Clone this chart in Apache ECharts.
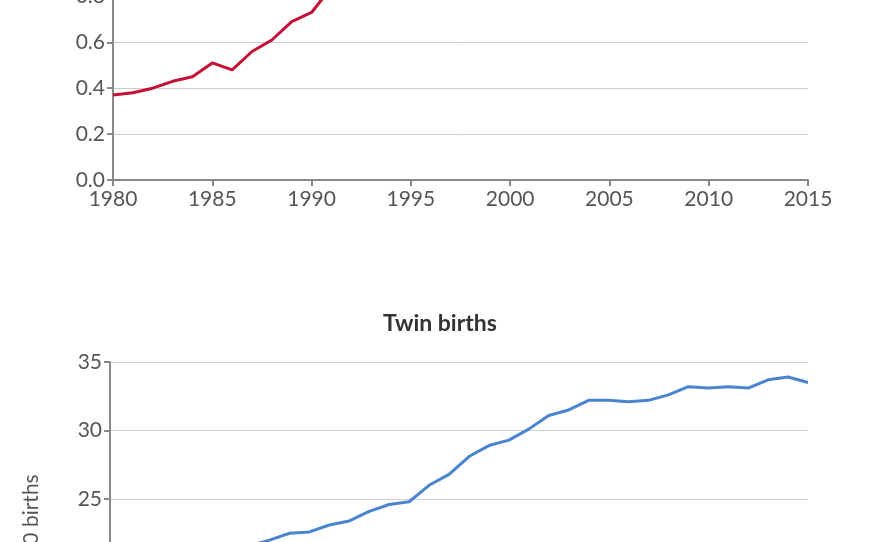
<!DOCTYPE html>
<html><head><meta charset="utf-8">
<script src="https://cdn.jsdelivr.net/npm/echarts@6/dist/echarts.min.js"></script>
<style>html,body{margin:0;padding:0;background:#fff;overflow:hidden;width:880px;height:542px}#c{position:absolute;left:0;top:-60px;width:880px;height:1000px}</style>
</head><body><div id="c"></div>
<script>
const years = [1980,1981,1982,1983,1984,1985,1986,1987,1988,1989,1990,1991,1992,1993,1994,1995,1996,1997,1998,1999,2000,2001,2002,2003,2004,2005,2006,2007,2008,2009,2010,2011,2012,2013,2014,2015];
const topYears = [1980,1981,1982,1983,1984,1985,1986,1987,1988,1989,1990,1991];
const topValues = [0.37,0.38,0.40,0.43,0.45,0.51,0.48,0.56,0.61,0.69,0.73,0.84];
const twinValues = [18.9,19.3,19.6,19.9,20.5,21.0,21.2,21.6,22.0,22.5,22.6,23.1,23.4,24.1,24.6,24.8,26.0,26.8,28.1,28.9,29.3,30.1,31.1,31.5,32.2,32.2,32.1,32.2,32.6,33.2,33.1,33.2,33.1,33.7,33.9,33.5];
const twinTitle = 'Twin births';
const twinAxisName = 'Twin births per 1,000 births';

const font = 'Lato, "DejaVu Sans", sans-serif';
const lab = {color:'#555', fontSize:21, fontFamily:font};
const axLine = {show:true, lineStyle:{color:'#888', width:2}};
const split = {show:true, lineStyle:{color:'#ccc', width:1}};
const tick = {show:true, length:6, lineStyle:{color:'#888',width:2}};
const chart = echarts.init(document.getElementById('c'));
chart.setOption({
  animation:false,
  title:{text:twinTitle, left:'center', top:367, textStyle:{fontFamily:font, fontSize:23, fontWeight:'bold', color:'#333'}},
  grid:[
    {left:113, right:72, top:0, height:240},
    {left:110, right:72, top:422, height:479.5}
  ],
  xAxis:[
    {gridIndex:0, type:'value', min:1980, max:2015, interval:5, axisLine:axLine, axisTick:tick, axisLabel:Object.assign({margin:9, formatter:v=>String(v)}, lab), splitLine:{show:false}},
    {gridIndex:1, type:'value', min:1980, max:2015, interval:5, axisLine:axLine, axisTick:tick, axisLabel:Object.assign({margin:9, formatter:v=>String(v)}, lab), splitLine:{show:false}}
  ],
  yAxis:[
    {gridIndex:0, type:'value', min:0, max:1.0, interval:0.2, axisLine:axLine, axisTick:tick, axisLabel:Object.assign({margin:8, formatter:v=>v.toFixed(1)}, lab), splitLine:split},
    {gridIndex:1, type:'value', min:0, max:35, interval:5, name:twinAxisName, nameLocation:'middle', nameGap:68, nameTextStyle:{color:'#555', fontSize:21, fontFamily:font}, axisLine:axLine, axisTick:tick, axisLabel:Object.assign({margin:8}, lab), splitLine:split}
  ],
  series:[
    {type:'line', xAxisIndex:0, yAxisIndex:0, data:topYears.map((y,i)=>[y,topValues[i]]), showSymbol:false, lineStyle:{color:'#c41035', width:3}, itemStyle:{color:'#c41035'}},
    {type:'line', xAxisIndex:1, yAxisIndex:1, data:years.map((y,i)=>[y,twinValues[i]]), showSymbol:false, lineStyle:{color:'#4a84cf', width:3}, itemStyle:{color:'#4a84cf'}}
  ]
});
</script></body></html>
